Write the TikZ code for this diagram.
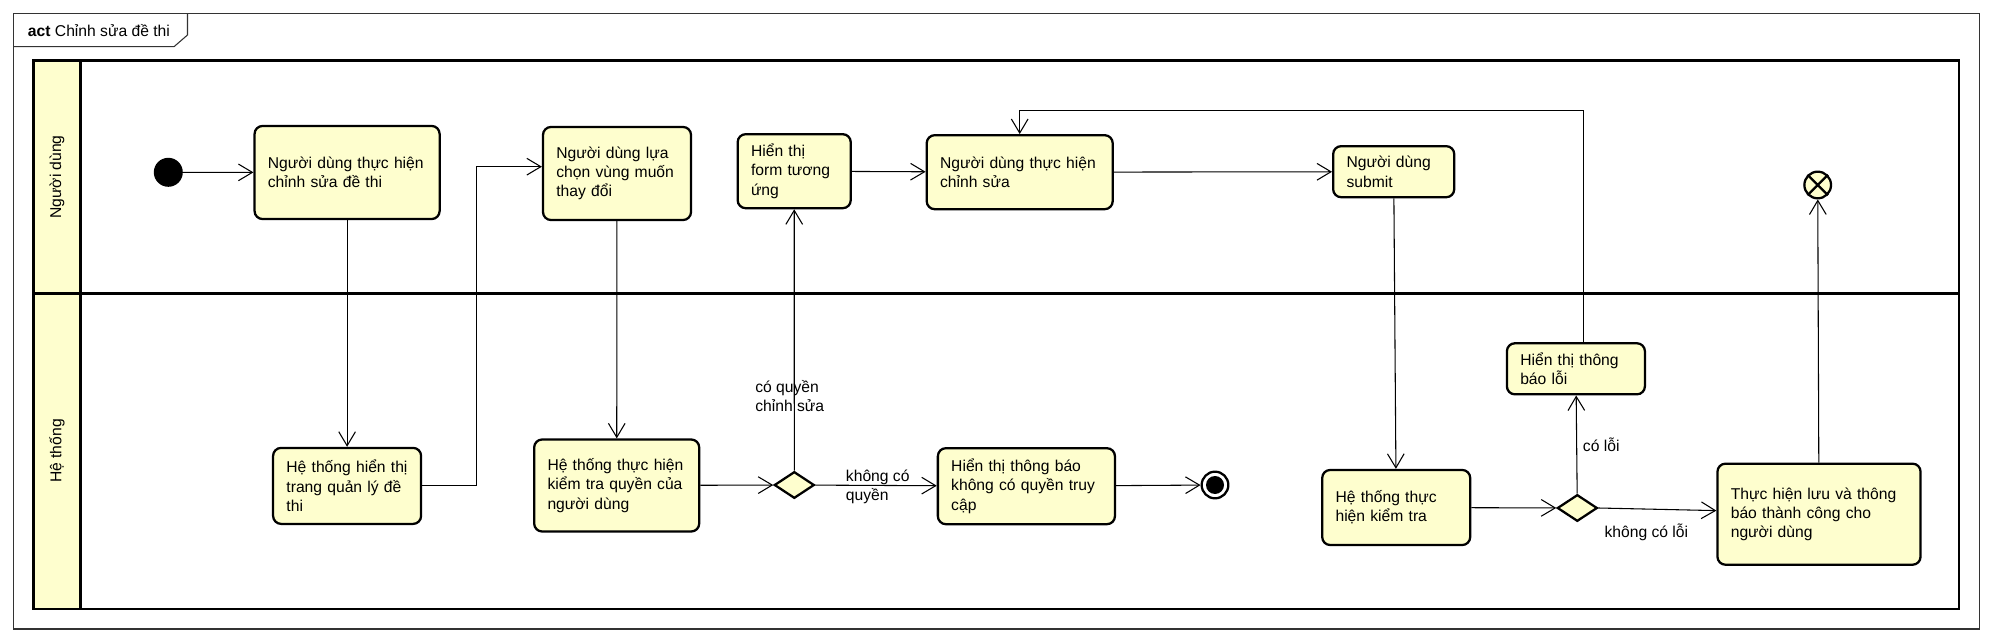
\documentclass[tikz,border=0pt]{standalone}
\usepackage{fontspec}
\setmainfont{Liberation Sans}
\usepackage{tikz}
\usetikzlibrary{arrows.meta,shapes.geometric}
\definecolor{actfill}{RGB}{254,254,206}

\begin{document}
\begin{tikzpicture}[x=0.75pt, y=-0.75pt,
	font=\fontsize{11.75pt}{14.5pt}\selectfont,
	>={Straight Barb[length=10.5pt,width=12.5pt]},
	action/.style={draw, line width=1.7pt, fill=actfill, rounded corners=6pt, align=left, inner xsep=10pt},
	decision/.style={draw, line width=1.7pt, fill=actfill, diamond, minimum width=30pt, minimum height=20pt, inner sep=0pt},
	flow/.style={->, line width=0.8pt},
	lanebar/.style={line width=2.2pt}]
	\useasboundingbox (0,0) rectangle (1992,641);

	% Frame
	\draw[line width=0.8pt, black!80] (13.4,13.3) rectangle (1979.3,629);
	\draw[line width=0.8pt, black!80] (13.4,46.7) -- (174,46.7) -- (187.5,35) -- (187.5,13.3);
	\node (title) at (27.7,30.5) [right, inner sep=0pt] {\textbf{act} Chỉnh sửa đề thi};

	% Swimlanes
	\fill[actfill] (33.5,60.7) rectangle (80.4,609);
	\draw[lanebar] (33.5,60.7) rectangle (1959,609);
	\draw[lanebar] (80.4,60.7) -- (80.4,609);
	\draw[lanebar] (33.5,293.3) -- (1959,293.3);
	\node (laneUser) at (57,177) [rotate=90] {Người dùng};
	\node (laneSys) at (57,451) [rotate=90] {Hệ thống};

	% Người dùng
	\node[circle, fill=black, minimum size=21.75pt, inner sep=0pt] (startNode) at (168.3,172.3) {};
	\node[action, text width=118.8pt, minimum height=69.8pt] (userEdit) at (347.1,172.5) {Người~dùng~thực~hiện\\chỉnh sửa đề thi};
	\node[action, text width=91pt, minimum height=69.8pt] (pickArea) at (617,173.5) {Người~dùng~lựa\\chọn~vùng~muốn\\thay đổi};
	\node[action, text width=64.8pt, minimum height=55.5pt] (showForm) at (794.2,171.2) {Hiển thị\\form~tương\\ứng};
	\node[action, text width=119.5pt, minimum height=55.5pt] (userFix) at (1019.7,172.2) {Người~dùng~thực~hiện\\chỉnh sửa};
	\node[action, text width=70.8pt, minimum height=38.3pt] (submit) at (1393.7,171.7) {Người~dùng\\submit};
	\node[circle, draw, line width=1.7pt, fill=actfill, minimum size=20pt, inner sep=0pt] (flowEnd) at (1817.7,185) {};
	\draw[line width=1.7pt] (flowEnd.45) -- (flowEnd.225) (flowEnd.135) -- (flowEnd.315);

	% Hệ thống
	\node[action, text width=91pt, minimum height=57pt] (showPage) at (347.1,485.9) {Hệ~thống~hiển~thị\\trang quản lý đề\\thi};
	\node[action, text width=103.8pt, minimum height=69pt] (checkRight) at (616.7,485.5) {Hệ~thống~thực~hiện\\kiểm~tra~quyền~của\\người dùng};
	\node[decision] (rightGate) at (794.3,485) {};
	\node[action, text width=112.8pt, minimum height=57pt] (noRight) at (1026.4,486.2) {Hiển thị thông báo\\không~có~quyền~truy\\cập};
	\node[circle, draw, line width=1.7pt, fill=white, minimum size=20pt, inner sep=0pt] (endNode) at (1215,485) {};
	\fill (endNode.center) circle [radius=6.75pt];
	\node[action, text width=91pt, minimum height=56.3pt] (sysCheck) at (1396.2,507.5) {Hệ~thống~thực\\hiện kiểm tra};
	\node[decision] (errGate) at (1577.3,508) {};
	\node[action, text width=83.5pt, minimum height=38.3pt] (showErr) at (1575.9,368.8) {Hiển~thị~thông\\báo lỗi};
	\node[action, text width=132.3pt, minimum height=75.8pt] (saveOk) at (1819,514.2) {Thực~hiện~lưu~và~thông\\báo thành công cho\\người dùng};

	% Flows
	\draw[flow] (startNode) -- (userEdit);
	\draw[flow] (userEdit) -- (showPage);
	\coordinate (bendA) at (476.8,166.7);
	\draw[flow] (showPage.east) -| (bendA) -- (bendA -| pickArea.west);
	\draw[flow] (pickArea) -- (checkRight);
	\draw[flow] (checkRight) -- (rightGate);
	\draw[flow] (rightGate) -- (showForm);
	\draw[flow] (rightGate) -- (noRight);
	\draw[flow] (noRight) -- (endNode);
	\draw[flow] (showForm) -- (userFix);
	\draw[flow] (userFix) -- (submit);
	\draw[flow] (submit) -- (sysCheck);
	\draw[flow] (sysCheck) -- (errGate);
	\draw[flow] (errGate) -- (showErr);
	\coordinate (loopTop) at (1583.3,110.5);
	\draw[flow] (showErr.north -| loopTop) -- (loopTop) -| (userFix.north);
	\draw[flow] (errGate.east) -- (saveOk.178);
	\draw[flow] (saveOk) -- (flowEnd);

	% Guards
	\node (lblYes) at (755,396.3) [right, align=left, inner sep=0pt] {có quyền\\chỉnh sửa};
	\node (lblNo) at (845.7,486.7) [right, align=left, inner sep=0pt] {không có\\quyền};
	\node (lblErr) at (1582.7,445) [right, inner sep=0pt] {có lỗi};
	\node (lblOk) at (1604.3,532.5) [right, inner sep=0pt] {không có lỗi};
\end{tikzpicture}
\end{document}
